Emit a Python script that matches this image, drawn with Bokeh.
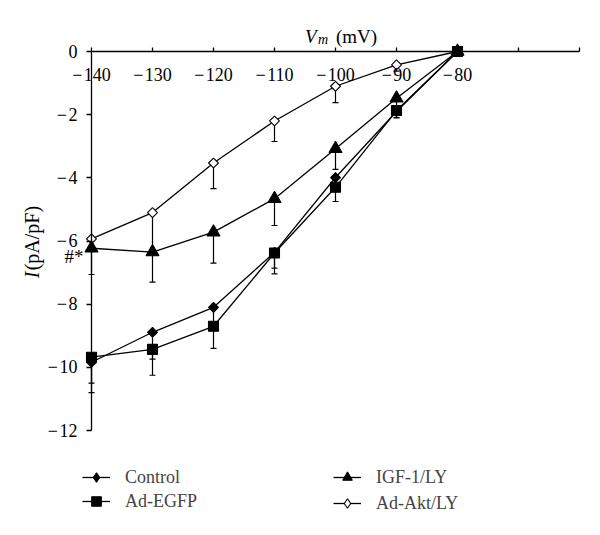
import math
from bokeh.plotting import figure
from bokeh.models import (Range1d, FixedTicker, Whisker, TeeHead, ColumnDataSource,
                          Legend, LegendItem, Label)
from bokeh.embed import file_html
from bokeh.resources import INLINE

# ---- data ----
voltage = [-140, -130, -120, -110, -100, -90, -80]

control = [-9.84, -8.89, -8.10, -6.36, -3.99, -1.90, 0.0]
control_err = [0.96, 0.85, 0.60, 0.50, 0.40, 0.20, 0.0]

ad_egfp = [-9.68, -9.43, -8.70, -6.38, -4.30, -1.87, 0.0]
ad_egfp_err = [0.82, 0.82, 0.70, 0.66, 0.45, 0.22, 0.0]

igf_ly = [-6.23, -6.35, -5.72, -4.66, -3.08, -1.48, 0.0]
igf_ly_err = [0.83, 0.95, 0.98, 0.85, 0.65, 0.30, 0.0]

akt_ly = [-5.93, -5.10, -3.53, -2.20, -1.10, -0.42, 0.0]
akt_ly_err = [0.30, 1.20, 0.81, 0.65, 0.52, 0.20, 0.0]

x_ticks = [-140, -130, -120, -110, -100, -90, -80, -70, -60]
x_tick_labels = ["\u2212\u200a140", "\u2212\u200a130", "\u2212\u200a120", "\u2212\u200a110",
                 "\u2212\u200a100", "\u2212\u200a90", "\u2212\u200a80", "", ""]
y_ticks = [-12, -10, -8, -6, -4, -2, 0]
y_tick_labels = ["\u2212\u200a12", "\u2212\u200a10", "\u2212\u200a8", "\u2212\u200a6",
                 "\u2212\u200a4", "\u2212\u200a2", "0"]

FONT = "Liberation Serif"

# ---- layout: frame covers the whole figure, axes are placed at fixed locations ----
W, H = 592, 527
AX_LEFT_PX, AX_TOP_PX = 91, 51          # where x=-140 / y=0 sit on the page
AX_W_PX, AX_H_PX = 488, 379             # pixel length of the x (80 mV) and y (12 pA/pF) axes
sx = AX_W_PX / 80.0
sy = AX_H_PX / 12.0
x_range = Range1d(-140 - AX_LEFT_PX / sx, -140 + (W - AX_LEFT_PX) / sx)
y_range = Range1d(-(H - AX_TOP_PX) / sy, AX_TOP_PX / sy)

p = figure(width=W, height=H, output_backend="svg", toolbar_location=None,
           x_range=x_range, y_range=y_range,
           min_border_left=0, min_border_right=0, min_border_top=0, min_border_bottom=0)
p.outline_line_color = None
p.grid.visible = False
p.background_fill_color = "white"
p.border_fill_color = "white"

xa = p.xaxis[0]
xa.fixed_location = 0
xa.bounds = (-140, -60)
xa.ticker = FixedTicker(ticks=x_ticks)
xa.major_label_overrides = dict(zip(x_ticks, x_tick_labels))
xa.major_tick_in = 4
xa.major_tick_out = 0
xa.minor_tick_line_color = None
xa.major_label_standoff = 13
xa.axis_line_width = 1.3
xa.major_tick_line_width = 1.3
xa.major_label_text_font = FONT
xa.major_label_text_font_size = "18px"
xa.major_label_text_color = "black"

ya = p.yaxis[0]
ya.fixed_location = -140
ya.bounds = (-12, 0)
ya.ticker = FixedTicker(ticks=y_ticks)
ya.major_label_overrides = dict(zip(y_ticks, y_tick_labels))
ya.major_tick_in = 0
ya.major_tick_out = 5
ya.minor_tick_line_color = None
ya.major_label_standoff = 9
ya.axis_line_width = 1.3
ya.major_tick_line_width = 1.3
ya.major_label_text_font = FONT
ya.major_label_text_font_size = "18px"
ya.major_label_text_color = "black"

# name, values, errors, plot marker, fill, size, angle, legend marker
series = [
    ("Ad-Akt/LY", akt_ly, akt_ly_err, "square", "white", 7, math.pi / 4, "diamond"),
    ("IGF-1/LY", igf_ly, igf_ly_err, "triangle", "black", 13, 0.0, "triangle"),
    ("Control", control, control_err, "square", "black", 7, math.pi / 4, "diamond"),
    ("Ad-EGFP", ad_egfp, ad_egfp_err, "square", "black", 10, 0.0, "square"),
]

renderers = {}
for name, vals, errs, marker, fill, size, ang, leg_marker in series:
    src = ColumnDataSource(dict(x=voltage, y=vals,
                                lo=[v - e for v, e in zip(vals, errs)]))
    p.add_layout(Whisker(source=src, base="x", upper="y", lower="lo",
                         dimension="height", line_color="black", line_width=1.2,
                         upper_head=None,
                         lower_head=TeeHead(size=6, line_color="black", line_width=1.2)))
    ln = p.line("x", "y", source=src, line_color="black", line_width=1.3)
    p.scatter("x", "y", source=src, marker=marker, size=size, angle=ang,
              fill_color=fill, line_color="black", line_width=1.1)
    # legend key marker: same data, hidden in the plot, shown only in the legend
    key = p.scatter("x", "y", source=src, marker=leg_marker, size=size,
                    fill_color=fill, line_color="black", line_width=1.1, visible=False)
    renderers[name] = [ln, key]

common = dict(padding=0, margin=0, glyph_width=28, glyph_height=24, label_height=21,
              label_standoff=15, label_text_font=FONT, label_text_font_size="18px",
              border_line_color=None, background_fill_alpha=0,
              inactive_fill_alpha=0)
leg_left = Legend(items=[LegendItem(label="Control", renderers=renderers["Control"], index=0),
                         LegendItem(label="Ad-EGFP", renderers=renderers["Ad-EGFP"], index=0)],
                  location=(82, 14), spacing=-3, **common)
leg_right = Legend(items=[LegendItem(label="IGF-1/LY", renderers=renderers["IGF-1/LY"], index=0),
                          LegendItem(label="Ad-Akt/LY", renderers=renderers["Ad-Akt/LY"], index=0)],
                   location=(333, 12), spacing=2, **common)
p.add_layout(leg_left)
p.add_layout(leg_right)

# x-axis title above the axis line
p.add_layout(Label(x=-105, y=0, x_offset=0, y_offset=15, text="V", text_font=FONT,
                   text_font_style="italic", text_font_size="19px",
                   text_baseline="alphabetic", text_align="left", text_color="black"))
p.add_layout(Label(x=-105, y=0, x_offset=13, y_offset=12, text="m", text_font=FONT,
                   text_font_style="italic", text_font_size="14px",
                   text_baseline="alphabetic", text_align="left", text_color="black"))
p.add_layout(Label(x=-105, y=0, x_offset=31, y_offset=15, text="(mV)", text_font=FONT,
                   text_font_size="19px",
                   text_baseline="alphabetic", text_align="left", text_color="black"))

# y-axis title (rotated)
p.add_layout(Label(x=-140, y=-7.18, x_offset=-60, text="I", text_font=FONT,
                   text_font_style="italic", text_font_size="20px", angle=math.pi / 2,
                   text_baseline="middle", text_align="left", text_color="black"))
p.add_layout(Label(x=-140, y=-6.93, x_offset=-60, text="(pA/pF)", text_font=FONT,
                   text_font_size="20px", angle=math.pi / 2,
                   text_baseline="middle", text_align="left", text_color="black"))

# significance marks
p.add_layout(Label(x=-140, y=-6.5, x_offset=-8, text="#*", text_font=FONT,
                   text_font_size="19px", text_baseline="middle", text_align="right",
                   text_color="black"))

open("out.html", "w").write(file_html(p, INLINE))
